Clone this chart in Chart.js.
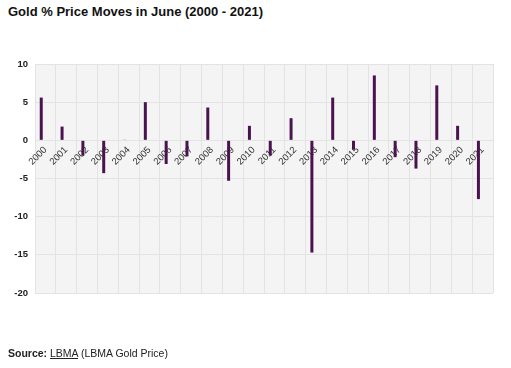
<!DOCTYPE html>
<html>
<head>
<meta charset="utf-8">
<script src="https://cdn.jsdelivr.net/npm/chart.js@4/dist/chart.umd.min.js"></script>
<style>
  html, body { margin: 0; padding: 0; background: #fff; }
  body { width: 511px; height: 368px; position: relative; overflow: hidden; font-family: "Liberation Sans", Arial, sans-serif; }
  #title { position: absolute; left: 8px; top: 4px; font-size: 13px; font-weight: bold; color: #111; }
  #source { position: absolute; left: 8px; top: 347px; font-size: 10.5px; color: #222; }
  #source a { color: #222; text-decoration: underline; }
  #wrap { position: absolute; left: 0; top: 0; width: 511px; height: 368px; }
</style>
</head>
<body>
<div id="title">Gold % Price Moves in June (2000 - 2021)</div>
<div id="wrap"><canvas id="chart"></canvas></div>
<div id="source"><b>Source:</b> <a>LBMA</a> (LBMA Gold Price)</div>
<script>
// June % moves in the LBMA gold price
const years = ['2000', '2001', '2002', '2003', '2004', '2005', '2006', '2007', '2008', '2009', '2010',
  '2011', '2012', '2013', '2014', '2015', '2016', '2017', '2018', '2019', '2020', '2021'];
const juneMoves = [5.6, 1.8, -2.0, -4.3, 0.05, 5.0, -3.1, -2.1, 4.3, -5.3, 1.9,
  -2.0, 2.9, -14.7, 5.6, -1.2, 8.5, -2.2, -3.7, 7.2, 1.9, -7.7];
// second series is empty in the original, but it still takes its slot
const otherMoves = years.map(() => null);
const yTicks = { min: -20, max: 10, step: 5 };

// grey plot background
const plotBg = {
  id: 'plotBg',
  beforeDraw(chart) {
    const { ctx, chartArea } = chart;
    ctx.save();
    ctx.fillStyle = '#f4f4f4';
    ctx.fillRect(chartArea.left, chartArea.top, chartArea.right - chartArea.left, chartArea.bottom - chartArea.top);
    ctx.restore();
  }
};

const ctx = document.getElementById('chart');
new Chart(ctx, {
  type: 'bar',
  data: {
    labels: years,
    datasets: [
      { label: 'June', data: juneMoves, backgroundColor: '#4b1250', barPercentage: 0.36, categoryPercentage: 0.8 },
      { label: 'Other', data: otherMoves, backgroundColor: '#c9a227', barPercentage: 0.36, categoryPercentage: 0.8 }
    ]
  },
  options: {
    responsive: true,
    maintainAspectRatio: false,
    animation: false,
    layout: { padding: { top: 64, bottom: 75, right: 18, left: 0 } },
    plugins: { legend: { display: false }, tooltip: { enabled: false } },
    scales: {
      x: {
        position: { y: 0 },
        grid: { color: '#e3e3e3', drawTicks: false, offset: true },
        border: { display: false },
        ticks: {
          minRotation: 45, maxRotation: 45, padding: 4, autoSkip: false,
          color: '#333', font: { family: 'Liberation Sans, Arial, sans-serif', size: 9.5 }
        }
      },
      y: {
        min: yTicks.min, max: yTicks.max,
        afterFit(scale) { scale.width = 35; },
        grid: { color: '#e3e3e3', drawTicks: false },
        border: { display: false },
        ticks: {
          stepSize: yTicks.step, padding: 7,
          color: '#222', font: { family: 'Liberation Sans, Arial, sans-serif', size: 9.5, weight: 'bold' }
        }
      }
    }
  },
  plugins: [plotBg]
});
</script>
</body>
</html>
